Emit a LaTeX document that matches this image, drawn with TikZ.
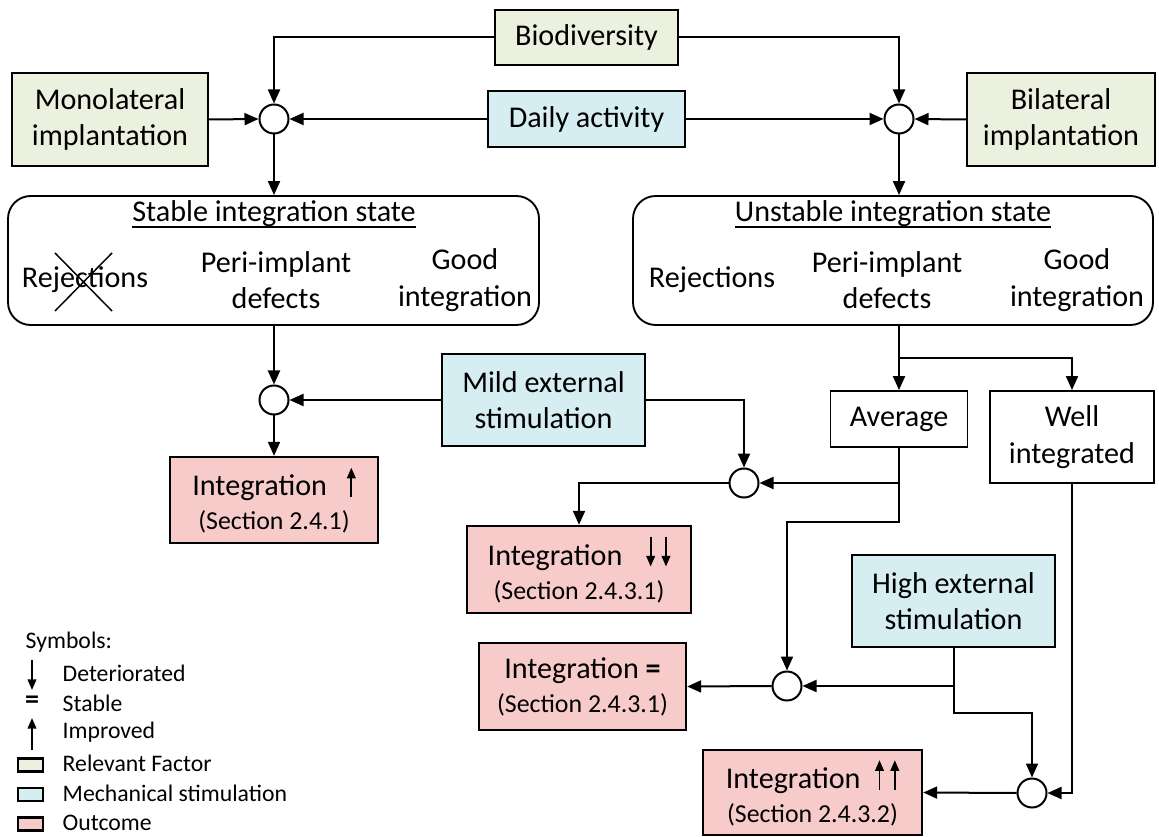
\documentclass[tikz,border=0pt]{standalone}
\usepackage{fontspec}
\setmainfont{Carlito}
\usepackage{tikz}
\usetikzlibrary{arrows.meta}

\definecolor{factorgreen}{RGB}{235,241,222}
\definecolor{stimblue}{RGB}{214,237,242}
\definecolor{outpink}{RGB}{248,203,203}

\newcommand{\mainsz}{\fontsize{22.6}{27.5}\selectfont}
\newcommand{\smallsz}{\fontsize{19.4}{22}\selectfont}
\newcommand{\legsz}{\fontsize{17.8}{22}\selectfont}
\newcommand{\ArrUp}{\tikz[baseline=0pt]\draw[line width=1.4pt,-{Triangle[length=8pt,width=6.5pt]}] (0pt,-1pt) -- (0pt,21pt);}
\newcommand{\ArrDown}{\tikz[baseline=0pt]\draw[line width=1.4pt,-{Triangle[length=8pt,width=6.5pt]}] (0pt,21pt) -- (0pt,-1pt);}

\begin{document}
\begin{tikzpicture}[x=0.75pt,y=-0.75pt,
	>={Triangle[length=10.5pt,width=9pt]},
	box/.style={draw,line width=1.8pt,align=center,inner sep=2pt,font=\mainsz},
	factor/.style={box,fill=factorgreen},
	stim/.style={box,fill=stimblue},
	outc/.style={box,fill=outpink},
	plainbox/.style={box,line width=1.4pt},
	junc/.style={circle,draw,line width=1.5pt,fill=white,minimum size=21.75pt,inner sep=0pt},
	conn/.style={->,line width=1.5pt},
	statebox/.style={draw,rounded corners=17pt,line width=1.4pt},
	txt/.style={align=center,font=\mainsz,inner sep=0pt}]
	\useasboundingbox (0,0) rectangle (1159,837);
	
	%top row
	\node[factor,minimum width=137.3pt,minimum height=41.3pt] (bio) at (586.5,37.5) {Biodiversity};
	\node[factor,minimum width=147pt,minimum height=69.75pt] (mono) at (110,119.5) {Monolateral\\implantation};
	\node[stim,minimum width=147.75pt,minimum height=42pt] (daily) at (586.5,119) {Daily activity};
	\node[factor,minimum width=141pt,minimum height=69.75pt] (bilat) at (1061,119.5) {Bilateral\\implantation};
	\node[junc] (jl) at (274,119) {};
	\node[junc] (jr) at (899,119) {};
	
	\draw[conn] (bio.west) -| (jl.north);
	\draw[conn] (bio.east) -| (jr.north);
	\draw[conn] (mono.east) -- (jl.west);
	\draw[conn] (daily.west) -- (jl.east);
	\draw[conn] (daily.east) -- (jr.west);
	\draw[conn] (bilat.west) -- (jr.east);
	
	%integration states
	\node[statebox,minimum width=398.25pt,minimum height=96.75pt] (stable) at (273.5,260.5) {};
	\node[statebox,minimum width=390pt,minimum height=96.75pt] (unstable) at (893,260.5) {};
	\draw[conn] (jl.south) -- (jl.south |- stable.north);
	\draw[conn] (jr.south) -- (jr.south |- unstable.north);
	
	\node[txt,anchor=base] (t1) at (274,222) {Stable integration state};
	\node[txt,anchor=base] (t2) at (893,222) {Unstable integration state};
	\draw[line width=1.4pt] ([yshift=-3.5pt]t1.base west) -- ([yshift=-3.5pt]t1.base east);
	\draw[line width=1.4pt] ([yshift=-3.5pt]t2.base west) -- ([yshift=-3.5pt]t2.base east);
	
	\node[txt] (rej1) at (85,280) {Rejections};
	\node[txt] (peri1) at (276,280) {Peri-implant\\defects};
	\node[txt] (good1) at (465,280) {Good\\integration};
	\node[txt] (rej2) at (712,280) {Rejections};
	\node[txt] (peri2) at (887,280) {Peri-implant\\defects};
	\node[txt] (good2) at (1077,280) {Good\\integration};
	\draw[line width=1.1pt] (55,253) -- (112,311) (112,253) -- (55,311);
	
	%stable branch
	\node[junc] (jm1) at (274,400) {};
	\node[stim,minimum width=152.25pt,minimum height=69pt] (mild) at (543.5,400) {Mild external\\stimulation};
	\node[outc,minimum width=156pt,minimum height=64.5pt] (up1) at (274,500) {Integration\hspace{15pt}\ArrUp\\[-2pt]{\smallsz (Section 2.4.1)}};
	\draw[conn] (jl.south |- stable.south) -- (jm1.north);
	\draw[conn] (mild.west) -- (jm1.east);
	\draw[conn] (jm1.south) -- (up1.north);
	
	%unstable branch
	\coordinate (br) at (899,358);
	\node[plainbox,minimum width=102.75pt,minimum height=42pt] (avg) at (899,419) {Average};
	\node[plainbox,minimum width=123pt,minimum height=69pt] (well) at (1072,437) {Well\\integrated};
	\draw[line width=1.5pt] (unstable.south -| br) -- (br);
	\draw[conn] (br) -- (avg.north);
	\draw[conn] (br) -| (well.north);
	
	\node[junc] (jm2) at (744,483) {};
	\node[outc,minimum width=168pt,minimum height=65.25pt] (dd) at (579,569.5) {Integration\hspace{18pt}\ArrDown\hspace{5pt}\ArrDown\\[-2pt]{\smallsz (Section 2.4.3.1)}};
	\draw[conn] (mild.east) -| (jm2.north);
	\draw[conn] (avg.south) |- (jm2.east);
	\draw[conn] (jm2.west) -| (dd.north);
	
	\coordinate (a1) at (899,522);
	\node[junc] (jm3) at (787,686) {};
	\node[stim,minimum width=152.25pt,minimum height=69pt] (high) at (953.5,601) {High external\\stimulation};
	\node[outc,minimum width=155.25pt,minimum height=65.25pt] (eq) at (582.5,686.5) {Integration \textbf{=}\\[-2pt]{\smallsz (Section 2.4.3.1)}};
	\draw[conn] (avg.south) -- (a1) -| (jm3.north);
	\draw[conn] (high.south) |- (jm3.east);
	\draw[conn] (jm3.west) -- (eq.east);
	
	\coordinate (h1) at (953.5,713);
	\node[junc] (jm4) at (1032,793) {};
	\node[outc,minimum width=164.25pt,minimum height=63.75pt] (uu) at (812.5,792.5) {Integration\hspace{11pt}\ArrUp\hspace{5pt}\ArrUp\\[-2pt]{\smallsz (Section 2.4.3.2)}};
	\draw[conn] (high.south) -- (h1) -| (jm4.north);
	\draw[conn] (well.south) |- (jm4.east);
	\draw[conn] (jm4.west) -- (uu.east);
	
	%legend
	\node[anchor=west,font=\legsz] (sym) at (21,642) {Symbols:};
	\coordinate (dtop) at (32,660);
	\coordinate (dbot) at (32,690);
	\draw[line width=1.4pt,-{Triangle[length=8pt,width=6.5pt]}] (dtop) -- (dbot);
	\node[anchor=west,font=\legsz] (ldet) at (58,673) {Deteriorated};
	\node[font=\fontsize{21}{22}\selectfont\bfseries] (leq) at (32,702) {=};
	\node[anchor=west,font=\legsz] (lsta) at (58,703) {Stable};
	\coordinate (ubot) at (32,750);
	\coordinate (utop) at (32,718);
	\draw[line width=1.4pt,-{Triangle[length=8pt,width=6.5pt]}] (ubot) -- (utop);
	\node[anchor=west,font=\legsz] (limp) at (58,732) {Improved};
	\node[draw,line width=1.8pt,fill=factorgreen,minimum width=18.5pt,minimum height=10pt,inner sep=0pt] (kfac) at (30.5,765) {};
	\node[anchor=west,font=\legsz] (lfac) at (58,763) {Relevant Factor};
	\node[draw,line width=1.8pt,fill=stimblue,minimum width=18.5pt,minimum height=10pt,inner sep=0pt] (kstim) at (30.5,794.5) {};
	\node[anchor=west,font=\legsz] (lstim) at (58,793) {Mechanical stimulation};
	\node[draw,line width=1.8pt,fill=outpink,minimum width=18.5pt,minimum height=10pt,inner sep=0pt] (kout) at (30.5,824) {};
	\node[anchor=west,font=\legsz] (lout) at (58,823) {Outcome};
	
\end{tikzpicture}
\end{document}
